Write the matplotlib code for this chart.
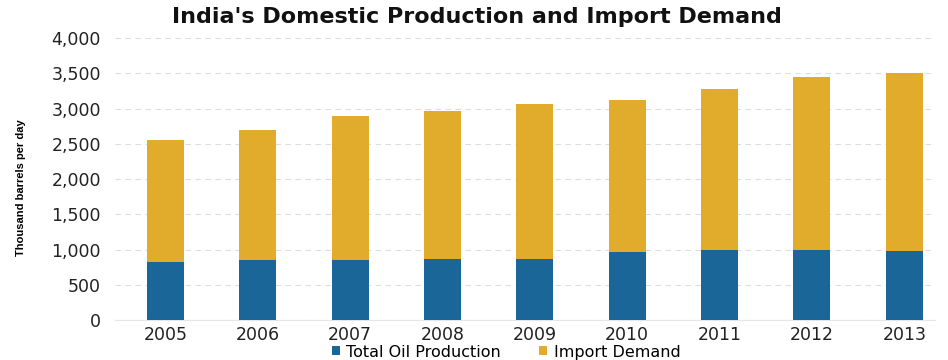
import matplotlib.pyplot as plt
import numpy as np

years = ["2005", "2006", "2007", "2008", "2009", "2010", "2011", "2012", "2013"]
production = [820, 850, 850, 870, 870, 960, 1000, 990, 980]
total_demand = [2550, 2700, 2890, 2960, 3070, 3120, 3280, 3450, 3510]
imports = [t - p for t, p in zip(total_demand, production)]

blue = "#1b6699"
gold = "#e1ab2b"

plt.rcParams["font.family"] = ["DejaVu Sans"]

fig = plt.figure(figsize=(9.48, 3.6), dpi=100)
ax = fig.add_axes([0.121, 0.111, 0.865, 0.783])

x = np.arange(len(years))
ax.bar(x, production, width=0.4, color=blue, label="Total Oil Production", zorder=3)
ax.bar(x, imports, width=0.4, bottom=production, color=gold, label="Import Demand", zorder=3)

ax.set_ylim(0, 4000)
ax.set_xlim(-0.55, 8.33)
ax.set_yticks(range(0, 4001, 500))
ax.set_yticklabels([f"{v:,}" for v in range(0, 4001, 500)], fontsize=12.5, color="#222222")
ax.set_xticks(x)
ax.set_xticklabels(years, fontsize=12.5, color="#222222")
ax.tick_params(length=0)
ax.tick_params(axis="y", pad=10)
ax.tick_params(axis="x", pad=4)
ax.yaxis.grid(True, linestyle=(0, (5, 4)), color="#dddddd", linewidth=0.8, zorder=0)
for s in ["top", "right", "left"]:
    ax.spines[s].set_visible(False)
ax.spines["bottom"].set_color("#e6e6e6")

ax.set_ylabel("Thousand barrels per day", fontsize=8, fontweight="bold",
              family=["Liberation Sans Narrow", "Liberation Sans"])
ax.yaxis.set_label_coords(-0.108, 0.47)

fig.text(0.503, 0.953, "India's Domestic Production and Import Demand", ha="center", va="center",
         fontsize=16, fontweight="bold", color="#111111")

fig.legend(loc="center", bbox_to_anchor=(0.534, 0.022), ncol=2, frameon=False,
           fontsize=11.5, handlelength=0.5, handleheight=0.5, handletextpad=0.4,
           columnspacing=2.4, borderpad=0)

fig.savefig("out.png", dpi=100)
